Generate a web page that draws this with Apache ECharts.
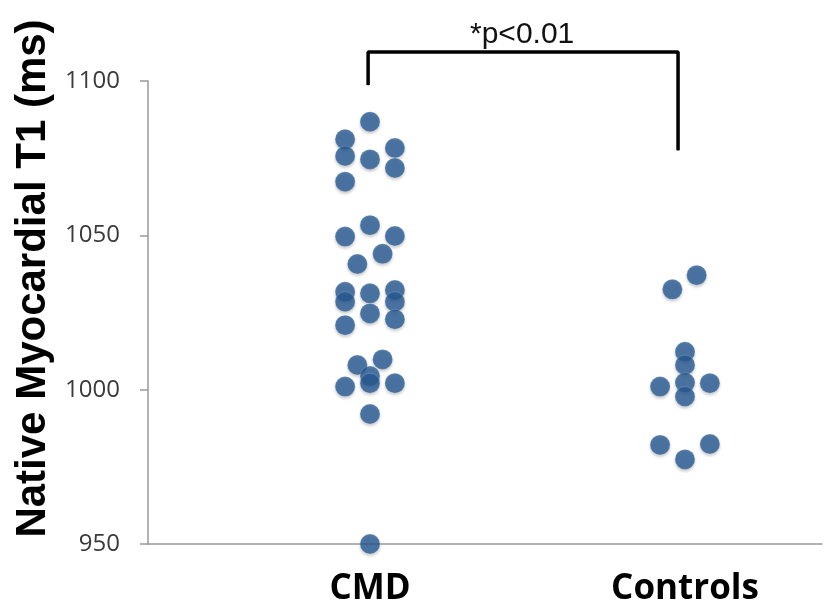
<!DOCTYPE html>
<html>
<head>
    <meta charset="utf-8">
    <title>Native Myocardial T1</title>
    <script src="https://cdn.jsdelivr.net/npm/echarts@6/dist/echarts.min.js"></script>
</head>
<body style="margin:0">
<div id="main" style="width: 831px;height:603px;"></div>
<script type="text/javascript">
    // groups and where they sit on the x axis
    var categories = ['CMD', 'Controls'];
    var groupPos = [1, 2];

    // CMD: horizontal jitter (x offset) and T1 value (ms)
    var cmdOffset = [0, -0.079, -0.079, 0, 0.079, 0.079, -0.079,
        0, -0.079, 0.079, 0.04, -0.04,
        -0.079, -0.079, 0, 0.079, 0.079, -0.079, 0, 0.079,
        -0.04, 0.04, 0, 0, -0.079, 0.079, 0, 0];
    var cmdT1 = [1086.8, 1081.1, 1075.7, 1074.6, 1078.3, 1071.8, 1067.4,
        1053.3, 1049.6, 1049.8, 1044, 1040.7,
        1031.7, 1028.5, 1031.2, 1032.3, 1028.5, 1020.9, 1024.7, 1022.8,
        1008, 1009.8, 1004.4, 1002.1, 1001, 1002.1, 992.1, 950];

    // Controls
    var ctrlOffset = [0.037, -0.04, 0, 0, 0, 0, -0.079, 0.079, -0.079, 0.079, 0];
    var ctrlT1 = [1037.1, 1032.5, 1012.3, 1008, 1002.3, 997.8, 1001, 1002.1, 982.1, 982.4, 977.4];

    // significance bracket (x, y) and its label
    var bracketX = [0.994, 0.994, 1.483, 1.978, 1.978];
    var bracketY = [1098.7, 1109.4, 1109.4, 1109.4, 1077.6];
    var pLabel = '*p<0.01';

    function toPoints(base, offs, vals) {
        return vals.map(function (v, i) { return [base + offs[i], v]; });
    }

    var bracket = bracketX.map(function (x, i) {
        var p = { value: [x, bracketY[i]] };
        if (i === 2) {
            p.label = {
                show: true, position: 'top', distance: 2,
                formatter: pLabel,
                fontFamily: 'Liberation Sans', fontSize: 30, color: '#111'
            };
        }
        return p;
    });

    var dotStyle = {
        color: '#275a94',
        borderColor: 'rgba(255,255,255,0.22)',
        borderWidth: 1,
        shadowBlur: 3,
        shadowOffsetY: 2,
        shadowColor: 'rgba(0,0,0,0.25)'
    };

    var myChart = echarts.init(document.getElementById('main'));
    var option = {
        animation: false,
        backgroundColor: '#fff',
        grid: { left: 148, right: 9, top: 81, bottom: 59, outerBoundsMode: 'none' },
        xAxis: {
            type: 'value',
            min: 0.2952,
            max: 2.435,
            splitLine: { show: false },
            axisLine: { lineStyle: { color: '#999', width: 1.5 } },
            axisTick: { show: false },
            axisLabel: {
                customValues: groupPos,
                formatter: function (v) { return categories[Math.round(v) - 1]; },
                margin: 28,
                fontFamily: 'Open Sans', fontWeight: 'bold', fontSize: 35, color: '#000'
            }
        },
        yAxis: {
            type: 'value',
            min: 950,
            max: 1100,
            interval: 50,
            splitLine: { show: false },
            axisLine: { show: true, lineStyle: { color: '#999', width: 1.5 } },
            axisTick: { show: true, length: 8, lineStyle: { color: '#999', width: 1.5 } },
            axisLabel: {
                margin: 28,
                formatter: function (v) { return String(v); },
                fontFamily: 'Open Sans', fontSize: 24, color: '#3a3a3a'
            },
            name: 'Native Myocardial T1 (ms)',
            nameLocation: 'middle',
            nameGap: 86,
            nameTextStyle: {
                fontFamily: 'Liberation Sans', fontWeight: 'bold', fontSize: 42, color: '#000',
                padding: [0, 0, 0, 68]
            }
        },
        series: [
            {
                name: 'CMD', type: 'scatter', symbolSize: 20,
                itemStyle: dotStyle,
                data: toPoints(groupPos[0], cmdOffset, cmdT1)
            },
            {
                name: 'Controls', type: 'scatter', symbolSize: 20,
                itemStyle: dotStyle,
                data: toPoints(groupPos[1], ctrlOffset, ctrlT1)
            },
            {
                name: 'bracket', type: 'line', clip: false,
                symbol: 'circle', symbolSize: 1, showSymbol: true, silent: true,
                itemStyle: { color: '#000' },
                lineStyle: { color: '#000', width: 3.5 },
                data: bracket
            }
        ]
    };
    myChart.setOption(option);
</script>
</body>
</html>
